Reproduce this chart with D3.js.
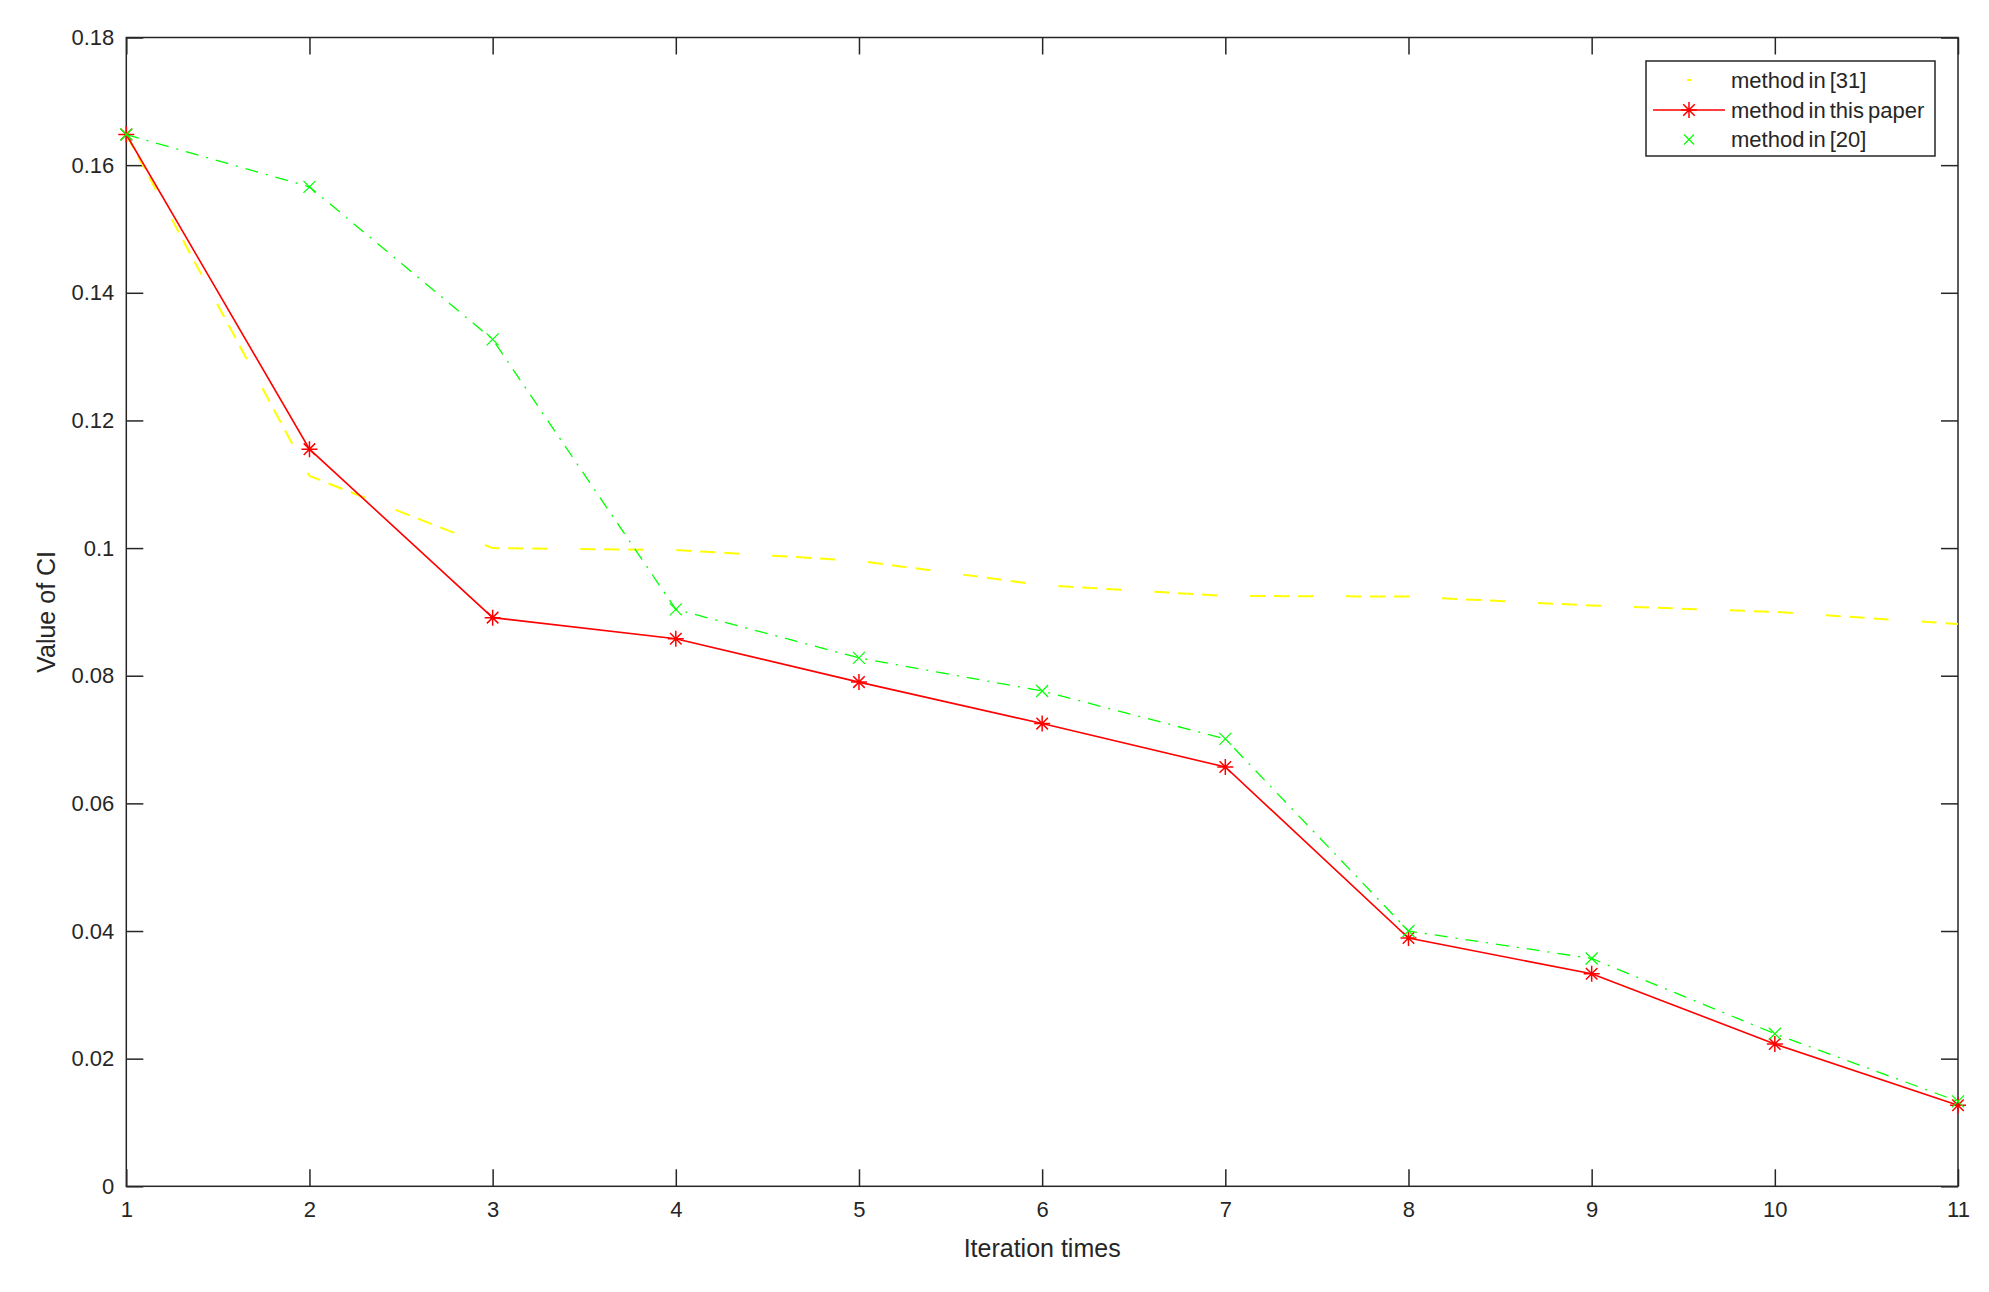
<!DOCTYPE html>
<html>
<head>
<meta charset="utf-8">
<script src="https://cdn.jsdelivr.net/npm/d3@7"></script>
<style>
body{margin:0;background:#fff;}
text{font-family:"Liberation Sans",Arial,sans-serif;fill:#262626;}
</style>
</head>
<body>
<svg></svg>
<script>
const width = 1989;
const height = 1292;
const frame = {left:126.3, right:1958, top:37.5, bottom:1186.3};

// data
const iterations = [1,2,3,4,5,6,7,8,9,10,11];
const method31 = [0.1648,0.1113,0.1000,0.0997,0.0980,0.0942,0.0925,0.0924,0.0910,0.0900,0.0881];
const methodPaper = [0.1648,0.1155,0.0891,0.0858,0.0790,0.0725,0.0657,0.0389,0.0333,0.0223,0.0127];
const method20 = [0.1648,0.1566,0.1327,0.0904,0.0828,0.0776,0.0701,0.0400,0.0357,0.0239,0.0133];
const yTicks = [0,0.02,0.04,0.06,0.08,0.1,0.12,0.14,0.16,0.18];
const seriesNames = ['method in [31]','method in this paper','method in [20]'];

var svg = d3.select('svg').attr('width', width).attr('height', height);
svg.append('rect').attr('width', width).attr('height', height).attr('fill', '#fff');

var x = d3.scaleLinear().domain([1,11]).range([frame.left, frame.right]);
var y = d3.scaleLinear().domain([0,0.18]).range([frame.bottom, frame.top]);

var fmt = d => String(+d.toFixed(2));

// axes, ticks inside the box on all four sides
function styleAxis(g){
	g.select('.domain').remove();
	g.selectAll('.tick line').attr('stroke', '#262626').attr('stroke-width', 1.5);
	g.selectAll('text').attr('font-size', 22).attr('fill', '#262626')
	.attr('font-family', '"Liberation Sans",Arial,sans-serif');
}

svg.append('g').attr('transform', `translate(0,${frame.bottom})`)
.call(d3.axisBottom(x).tickValues(iterations).tickSize(-17).tickPadding(15))
.call(styleAxis);
svg.append('g').attr('transform', `translate(0,${frame.top})`)
.call(d3.axisTop(x).tickValues(iterations).tickSize(-17).tickFormat(''))
.call(styleAxis);
svg.append('g').attr('transform', `translate(${frame.left},0)`)
.call(d3.axisLeft(y).tickValues(yTicks).tickSize(-17).tickPadding(12).tickFormat(fmt))
.call(styleAxis);
svg.append('g').attr('transform', `translate(${frame.right},0)`)
.call(d3.axisRight(y).tickValues(yTicks).tickSize(-17).tickFormat(''))
.call(styleAxis);

svg.append('rect')
.attr('x', frame.left).attr('y', frame.top)
.attr('width', frame.right-frame.left).attr('height', frame.bottom-frame.top)
.attr('fill', 'none').attr('stroke', '#262626').attr('stroke-width', 1.5);

// axis labels
svg.append('text').attr('x', (frame.left+frame.right)/2).attr('y', 1257)
.attr('text-anchor', 'middle').attr('font-size', 25).text('Iteration times');
svg.append('text').attr('transform', `translate(55,${(frame.top+frame.bottom)/2}) rotate(-90)`)
.attr('text-anchor', 'middle').attr('font-size', 25).text('Value of CI');

var line = d3.line().x((d,i) => x(iterations[i])).y(d => y(d));

// markers
function asterisk(g, cx, cy, r){
	var p = `M${cx-r},${cy}L${cx+r},${cy}M${cx},${cy-r}L${cx},${cy+r}`;
	var q = r*0.72;
	p += `M${cx-q},${cy-q}L${cx+q},${cy+q}M${cx-q},${cy+q}L${cx+q},${cy-q}`;
	g.append('path').attr('d', p).attr('stroke', '#ff0000').attr('stroke-width', 1.5).attr('fill', 'none');
}
function cross(g, cx, cy, r){
	g.append('path').attr('d', `M${cx-r},${cy-r}L${cx+r},${cy+r}M${cx-r},${cy+r}L${cx+r},${cy-r}`)
	.attr('stroke', '#00ff00').attr('stroke-width', 1.2).attr('fill', 'none');
}

var plot = svg.append('g');

plot.append('path').datum(method31).attr('d', line)
.attr('fill', 'none').attr('stroke', '#ffff00').attr('stroke-width', 2)
.attr('stroke-dasharray', '15,9,15,9,15,33');

plot.append('path').datum(methodPaper).attr('d', line)
.attr('fill', 'none').attr('stroke', '#ff0000').attr('stroke-width', 1.6);
var redMarks = plot.append('g');
methodPaper.forEach((v,i) => asterisk(redMarks, x(iterations[i]), y(v), 8));

plot.append('path').datum(method20).attr('d', line)
.attr('fill', 'none').attr('stroke', '#00ff00').attr('stroke-width', 1.3)
.attr('stroke-dasharray', '13,8,2,8');
var greenMarks = plot.append('g');
method20.forEach((v,i) => cross(greenMarks, x(iterations[i]), y(v), 6));

// legend
var legend = svg.append('g');
legend.append('rect').attr('x', 1646).attr('y', 61).attr('width', 289).attr('height', 95)
.attr('fill', '#fff').attr('stroke', '#262626').attr('stroke-width', 1.5);
var rowY = [80, 110, 139.5];
legend.append('line').attr('x1', 1687).attr('x2', 1691).attr('y1', rowY[0]).attr('y2', rowY[0])
.attr('stroke', '#ffff00').attr('stroke-width', 2);
legend.append('line').attr('x1', 1653).attr('x2', 1725).attr('y1', rowY[1]).attr('y2', rowY[1])
.attr('stroke', '#ff0000').attr('stroke-width', 1.6);
asterisk(legend, 1689, rowY[1], 8);
cross(legend, 1689, rowY[2], 5);
legend.selectAll('text.lab').data(seriesNames).enter().append('text')
.attr('class', 'lab')
.attr('x', 1731).attr('y', (d,i) => rowY[i]).attr('dy', '0.36em')
.attr('font-size', 22).attr('word-spacing', -2).text(d => d);
</script>
</body>
</html>
